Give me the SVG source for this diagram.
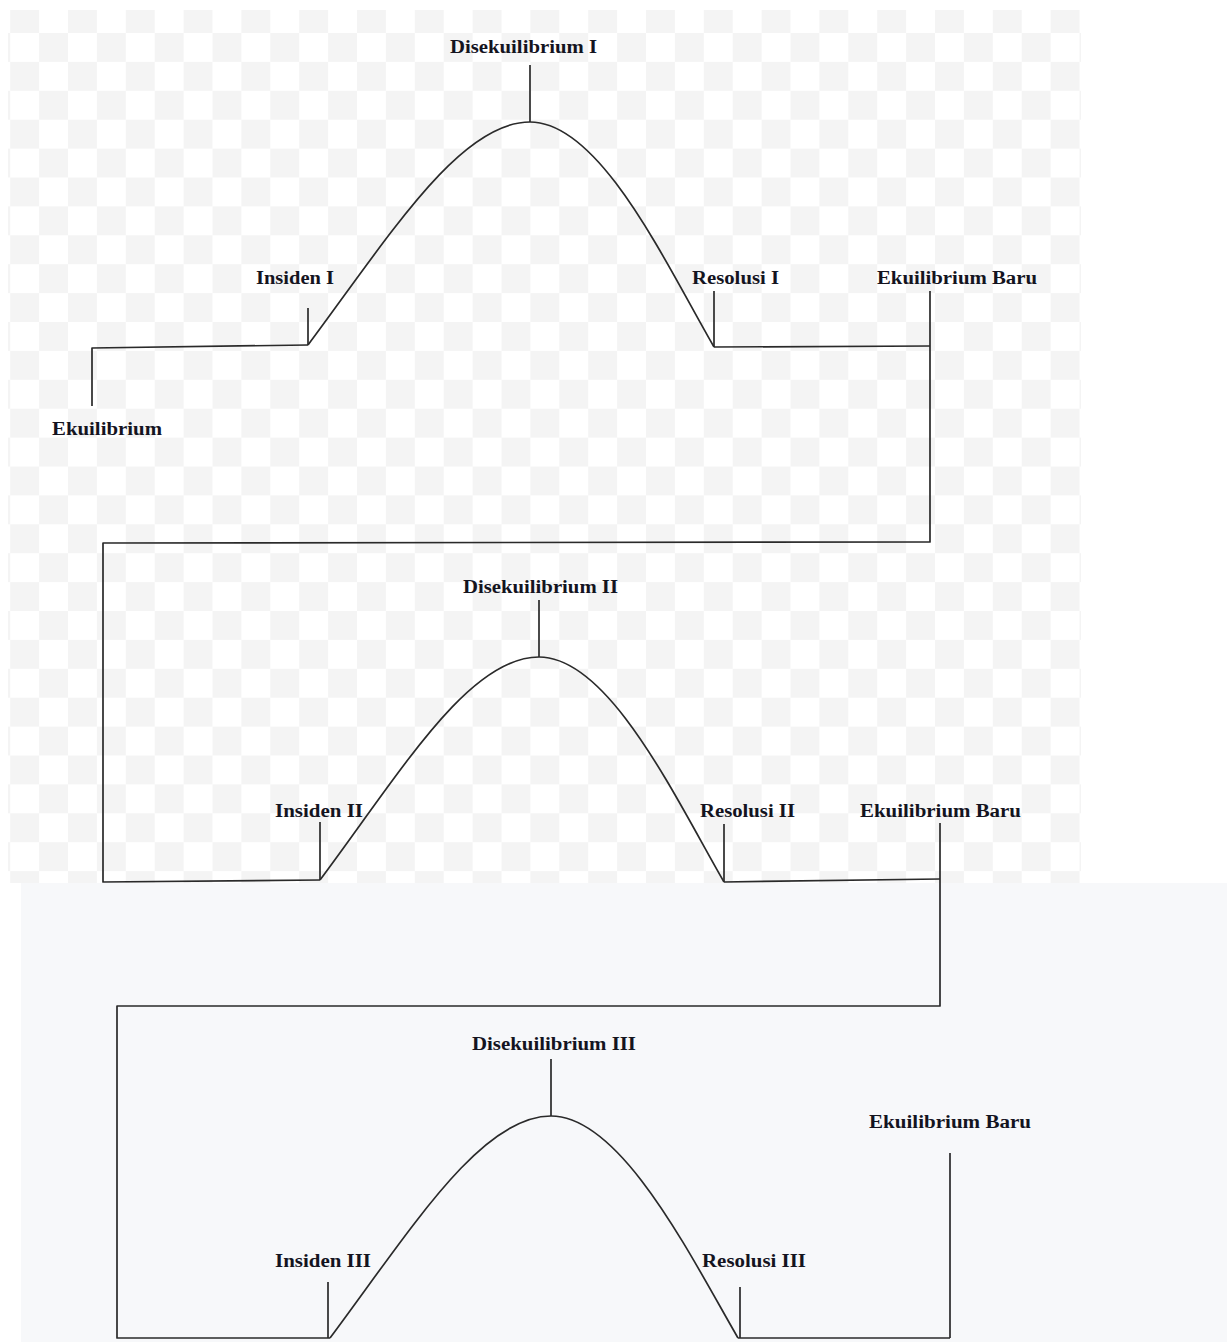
<svg xmlns="http://www.w3.org/2000/svg" width="1227" height="1342" viewBox="0 0 1227 1342">
  <defs>
    <pattern id="checker" patternUnits="userSpaceOnUse" x="10.2" y="4.1" width="57.8" height="57.8">
      <rect width="57.8" height="57.8" fill="#ffffff"/>
      <rect width="28.9" height="28.9" fill="#f4f4f4"/>
      <rect x="28.9" y="28.9" width="28.9" height="28.9" fill="#f4f4f4"/>
    </pattern>
    <style>
      .lbl { font-family: "Liberation Serif", "Times New Roman", serif; font-weight: bold; font-size: 18px; fill: #14141f; }
      .ln { fill: none; stroke: #2a2a2a; stroke-width: 1.7; stroke-linejoin: round; }
    </style>
  </defs>

  <rect width="1227" height="1342" fill="#ffffff"/>
  <rect x="8" y="10" width="1073" height="873" fill="url(#checker)"/>
  <rect x="21" y="883" width="1206" height="459" fill="#f7f8fa"/>

  <g id="connectors">
    <!-- section 1 -->
    <polyline class="ln" points="92,406 92,348 308,345"/>
    <line class="ln" x1="308" y1="308" x2="308" y2="345"/>
    <path class="ln" d="M308,345 C390,235 460,122 530,122 C600,122 665,262 714,347"/>
    <line class="ln" x1="530" y1="65" x2="530" y2="122"/>
    <line class="ln" x1="714" y1="291" x2="714" y2="347"/>
    <polyline class="ln" points="714,347 930,346"/>
    <polyline class="ln" points="930,291 930,542 103,543 103,882 320,880"/>
    <!-- section 2 -->
    <line class="ln" x1="320" y1="822" x2="320" y2="880"/>
    <path class="ln" d="M320,880 C402,770 469,657 539,657 C609,657 675,797 724,882"/>
    <line class="ln" x1="539" y1="600" x2="539" y2="657"/>
    <line class="ln" x1="724" y1="824" x2="724" y2="882"/>
    <polyline class="ln" points="724,882 940,879"/>
    <polyline class="ln" points="940,823 940,1006 117,1006 117,1338 330,1338"/>
    <!-- section 3 -->
    <line class="ln" x1="328" y1="1282" x2="328" y2="1338"/>
    <path class="ln" d="M330,1338 C412,1228 481,1116 551,1116 C621,1116 690,1255 738,1338"/>
    <line class="ln" x1="551" y1="1059" x2="551" y2="1116"/>
    <line class="ln" x1="740" y1="1287" x2="740" y2="1338"/>
    <polyline class="ln" points="738,1338 950,1338"/>
    <line class="ln" x1="950" y1="1153" x2="950" y2="1338"/>
  </g>

  <g id="node-ekuilibrium"><text class="lbl" x="52" y="435" textLength="110" lengthAdjust="spacingAndGlyphs">Ekuilibrium</text></g>
  <g id="node-insiden-1"><text class="lbl" x="256" y="284" textLength="78" lengthAdjust="spacingAndGlyphs">Insiden I</text></g>
  <g id="node-disekuilibrium-1"><text class="lbl" x="450" y="53" textLength="147" lengthAdjust="spacingAndGlyphs">Disekuilibrium I</text></g>
  <g id="node-resolusi-1"><text class="lbl" x="692" y="284" textLength="87" lengthAdjust="spacingAndGlyphs">Resolusi I</text></g>
  <g id="node-ekuilibrium-baru-1"><text class="lbl" x="877" y="284" textLength="160" lengthAdjust="spacingAndGlyphs">Ekuilibrium Baru</text></g>

  <g id="node-disekuilibrium-2"><text class="lbl" x="463" y="593" textLength="155" lengthAdjust="spacingAndGlyphs">Disekuilibrium II</text></g>
  <g id="node-insiden-2"><text class="lbl" x="275" y="817" textLength="88" lengthAdjust="spacingAndGlyphs">Insiden II</text></g>
  <g id="node-resolusi-2"><text class="lbl" x="700" y="817" textLength="95" lengthAdjust="spacingAndGlyphs">Resolusi II</text></g>
  <g id="node-ekuilibrium-baru-2"><text class="lbl" x="860" y="817" textLength="161" lengthAdjust="spacingAndGlyphs">Ekuilibrium Baru</text></g>

  <g id="node-disekuilibrium-3"><text class="lbl" x="472" y="1050" textLength="164" lengthAdjust="spacingAndGlyphs">Disekuilibrium III</text></g>
  <g id="node-ekuilibrium-baru-3"><text class="lbl" x="869" y="1128" textLength="162" lengthAdjust="spacingAndGlyphs">Ekuilibrium Baru</text></g>
  <g id="node-insiden-3"><text class="lbl" x="275" y="1267" textLength="96" lengthAdjust="spacingAndGlyphs">Insiden III</text></g>
  <g id="node-resolusi-3"><text class="lbl" x="702" y="1267" textLength="104" lengthAdjust="spacingAndGlyphs">Resolusi III</text></g>
</svg>
